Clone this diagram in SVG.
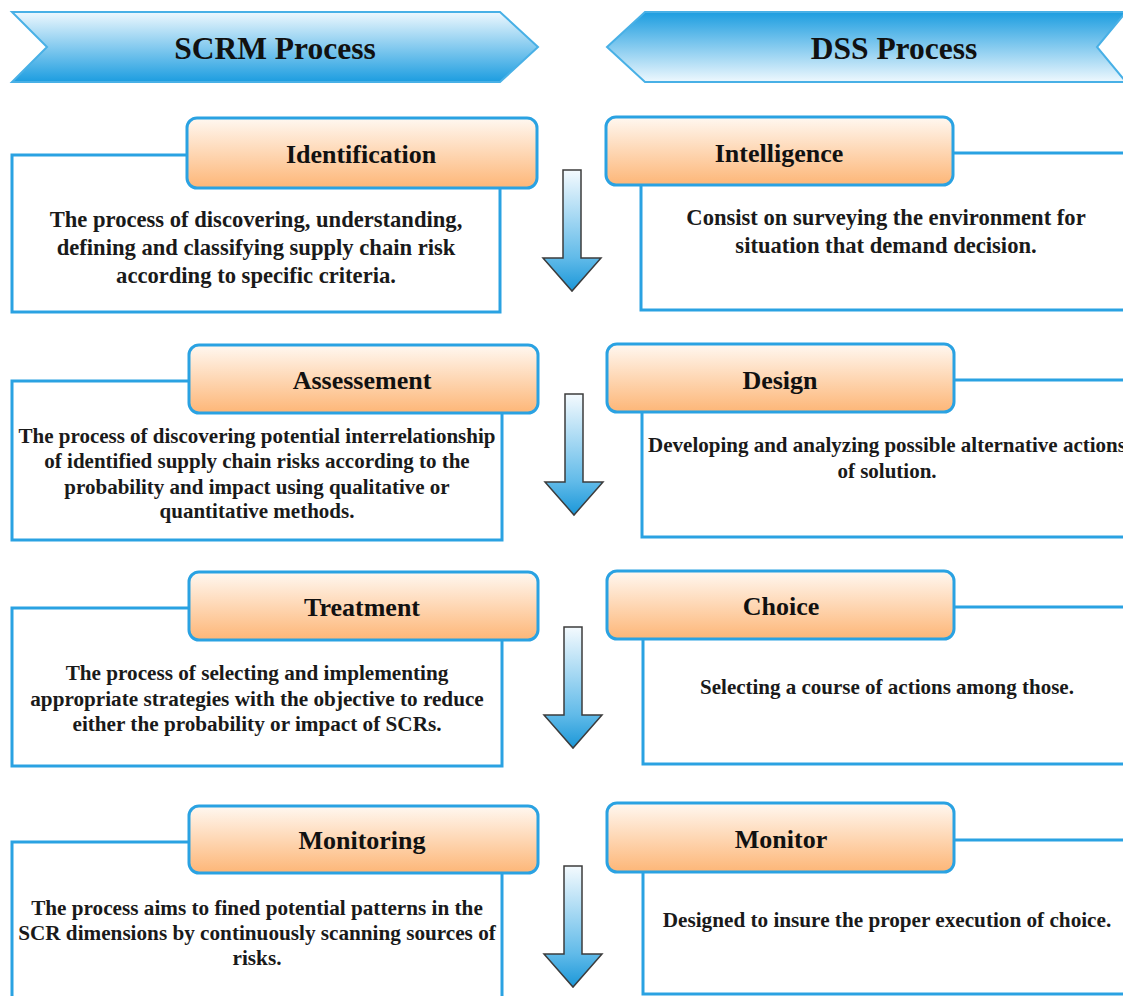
<svg xmlns="http://www.w3.org/2000/svg" width="1123" height="996" viewBox="0 0 1123 996">
  <defs>
    <linearGradient id="bannerDown" x1="0" y1="0" x2="0" y2="1">
      <stop offset="0" stop-color="#eef8fe"/>
      <stop offset="1" stop-color="#1c9de0"/>
    </linearGradient>
    <linearGradient id="bannerUp" x1="0" y1="0" x2="0" y2="1">
      <stop offset="0" stop-color="#1c9de0"/>
      <stop offset="1" stop-color="#eef8fe"/>
    </linearGradient>
    <linearGradient id="head" x1="0" y1="0" x2="0" y2="1">
      <stop offset="0" stop-color="#fff8f1"/>
      <stop offset="1" stop-color="#fdb677"/>
    </linearGradient>
    <linearGradient id="arrowFill" x1="0" y1="0" x2="0" y2="1">
      <stop offset="0" stop-color="#f4fafe"/>
      <stop offset="0.72" stop-color="#62bbe9"/>
      <stop offset="1" stop-color="#1b97d8"/>
    </linearGradient>
    <path id="downArrow" d="M-9,0 H9 V88 H29 L0,121 L-29,88 H-9 Z"/>
    <style>
      .banner { stroke: #48b0e6; stroke-width: 2; }
      .banner-text { font-family: "Liberation Serif", "Times New Roman", serif; font-weight: bold; font-size: 31.5px; fill: #111; text-anchor: middle; }
      .panel { fill: #fff; stroke: #2aa2e2; stroke-width: 3; }
      .tab { fill: url(#head); stroke: #2aa2e2; stroke-width: 3; }
      .tab-text { font-family: "Liberation Serif", "Times New Roman", serif; font-weight: bold; font-size: 26px; fill: #111; text-anchor: middle; }
      .body { font-family: "Liberation Serif", "Times New Roman", serif; font-weight: bold; font-size: 21.2px; fill: #1a1a1a; text-anchor: middle; }
      .body.large { font-size: 22.6px; }
      .body.small { font-size: 21px; }
      .arrow { fill: url(#arrowFill); stroke: #3c3c3c; stroke-width: 1.5; stroke-linejoin: miter; }
    </style>
  </defs>

  <rect width="1123" height="996" fill="#fff"/>

  <!-- column banners -->
  <g id="banner-scrm">
    <path class="banner" d="M12,12 H500 L538,47 L500,82 H12 L47,47 Z" fill="url(#bannerDown)"/>
    <text class="banner-text" x="275" y="59">SCRM Process</text>
  </g>
  <g id="banner-dss">
    <path class="banner" d="M645,12 H1126 L1097,47 L1126,82 H645 L607,47 Z" fill="url(#bannerUp)"/>
    <text class="banner-text" x="894" y="59">DSS Process</text>
  </g>

  <!-- SCRM steps -->
  <g id="identification">
    <rect class="panel" x="12" y="155" width="488" height="157"/>
    <rect class="tab" x="187" y="118" width="350" height="70" rx="10"/>
    <text class="tab-text" x="361" y="163">Identification</text>
    <text class="body large" x="256" y="227">The process of discovering, understanding,</text>
    <text class="body large" x="256" y="255">defining and classifying supply chain risk</text>
    <text class="body large" x="256" y="283">according to specific criteria.</text>
  </g>
  <g id="assessement">
    <rect class="panel" x="12" y="381" width="490" height="159"/>
    <rect class="tab" x="189" y="345" width="349" height="68" rx="10"/>
    <text class="tab-text" x="362" y="389">Assessement</text>
    <text class="body small" x="257" y="443">The process of discovering potential interrelationship</text>
    <text class="body small" x="257" y="468">of identified supply chain risks according to the</text>
    <text class="body small" x="257" y="494">probability and impact using qualitative or</text>
    <text class="body small" x="257" y="518">quantitative methods.</text>
  </g>
  <g id="treatment">
    <rect class="panel" x="12" y="608" width="490" height="158"/>
    <rect class="tab" x="189" y="572" width="349" height="68" rx="10"/>
    <text class="tab-text" x="362" y="616">Treatment</text>
    <text class="body" x="257" y="680">The process of selecting and implementing</text>
    <text class="body" x="257" y="706">appropriate strategies with the objective to reduce</text>
    <text class="body" x="257" y="731">either the probability or impact of SCRs.</text>
  </g>
  <g id="monitoring">
    <rect class="panel" x="12" y="842" width="490" height="170"/>
    <rect class="tab" x="189" y="806" width="349" height="67" rx="10"/>
    <text class="tab-text" x="362" y="849">Monitoring</text>
    <text class="body" x="257" y="915">The process aims to fined potential patterns in the</text>
    <text class="body" x="257" y="940">SCR dimensions by continuously scanning sources of</text>
    <text class="body" x="257" y="965">risks.</text>
  </g>

  <!-- DSS steps -->
  <g id="intelligence">
    <rect class="panel" x="641" y="153" width="495" height="157"/>
    <rect class="tab" x="606" y="117" width="347" height="68" rx="10"/>
    <text class="tab-text" x="779" y="162">Intelligence</text>
    <text class="body large" x="886" y="225">Consist on surveying the environment for</text>
    <text class="body large" x="886" y="253">situation that demand decision.</text>
  </g>
  <g id="design">
    <rect class="panel" x="642" y="380" width="495" height="157"/>
    <rect class="tab" x="607" y="344" width="347" height="68" rx="10"/>
    <text class="tab-text" x="780" y="389">Design</text>
    <text class="body small" x="887" y="452">Developing and analyzing possible alternative actions</text>
    <text class="body small" x="887" y="478">of solution.</text>
  </g>
  <g id="choice">
    <rect class="panel" x="643" y="607" width="495" height="157"/>
    <rect class="tab" x="607" y="571" width="347" height="68" rx="10"/>
    <text class="tab-text" x="781" y="615">Choice</text>
    <text class="body small" x="887" y="694">Selecting a course of actions among those.</text>
  </g>
  <g id="monitor">
    <rect class="panel" x="643" y="840" width="495" height="154"/>
    <rect class="tab" x="607" y="803" width="347" height="69" rx="10"/>
    <text class="tab-text" x="781" y="848">Monitor</text>
    <text class="body" x="887" y="927">Designed to insure the proper execution  of choice.</text>
  </g>

  <!-- flow arrows between stages -->
  <g id="connectors">
    <use href="#downArrow" class="arrow" transform="translate(572,170)"/>
    <use href="#downArrow" class="arrow" transform="translate(574,394)"/>
    <use href="#downArrow" class="arrow" transform="translate(573,627)"/>
    <use href="#downArrow" class="arrow" transform="translate(573,866)"/>
  </g>
</svg>
